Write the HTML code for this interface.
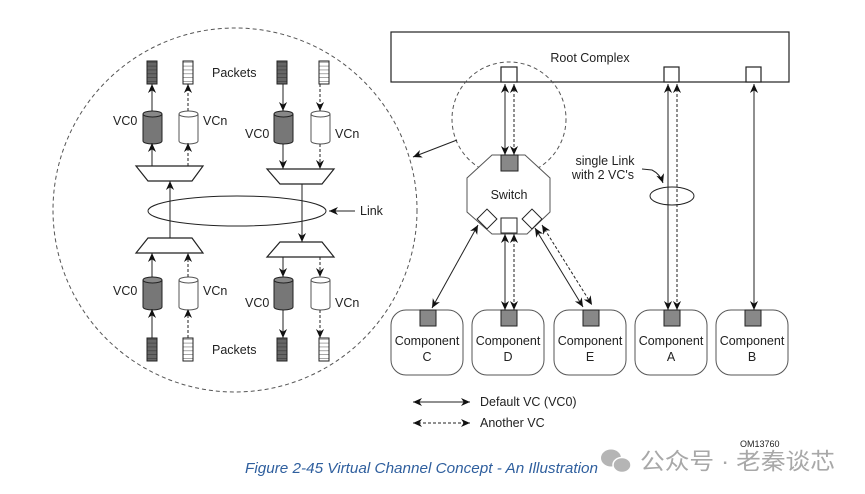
<!DOCTYPE html>
<html><head><meta charset="utf-8"><style>
html,body{margin:0;padding:0;background:#fff;}
svg{display:block;}
text{font-family:"Liberation Sans",Arial,sans-serif;fill:#222;}
</style></head><body>
<svg width="865" height="494" viewBox="0 0 865 494" xmlns="http://www.w3.org/2000/svg">
<defs>
<marker id="a" viewBox="0 0 10 10" refX="10" refY="5" markerWidth="9" markerHeight="9" orient="auto-start-reverse" markerUnits="userSpaceOnUse">
<path d="M0,0.5 L10,5 L0,9.5 L3,5 z" fill="#111"/>
</marker>
<pattern id="pk" width="10" height="3.9" patternUnits="userSpaceOnUse"><rect width="10" height="3.9" fill="none"/><line x1="0" y1="3.9" x2="10" y2="3.9" stroke="#222" stroke-width="0.8"/></pattern>
</defs>
<g stroke="#222" fill="none" stroke-width="1">
<ellipse cx="235" cy="210" rx="182" ry="182" stroke="#555" stroke-dasharray="4,3"/>
<ellipse cx="237" cy="211" rx="89" ry="15"/>
<line x1="355" y1="211" x2="329" y2="211" marker-end="url(#a)"/>
</g>
<text x="360" y="215" font-size="12.5">Link</text>
<text x="212" y="77" font-size="12.5">Packets</text>
<text x="212" y="354" font-size="12.5">Packets</text>

<g stroke="#222" stroke-width="1">
<g id="pd"><rect x="147" y="61" width="10" height="23" fill="#666"/><rect x="147" y="61" width="10" height="23" fill="url(#pk)"/></g>
<use href="#pd" x="130"/>
<use href="#pd" y="277"/>
<use href="#pd" x="130" y="277"/>
<g id="pw"><rect x="183" y="61" width="10" height="23" fill="#fff"/><rect x="183" y="61" width="10" height="23" fill="url(#pk)"/></g>
<use href="#pw" x="136"/>
<use href="#pw" y="277"/>
<use href="#pw" x="136" y="277"/>
</g>

<g stroke="#222" stroke-width="1">
<g id="cd"><path d="M143,114 v27 a9.5,3 0 0 0 19,0 v-27" fill="#777"/><ellipse cx="152.5" cy="114" rx="9.5" ry="3" fill="#888"/></g>
<use href="#cd" x="131" y="0"/>
<use href="#cd" y="166"/>
<use href="#cd" x="131" y="166"/>
<g id="cw" stroke="#555"><path d="M179,114 v27 a9.5,3 0 0 0 19,0 v-27" fill="#fff"/><ellipse cx="188.5" cy="114" rx="9.5" ry="3" fill="#fff"/></g>
<use href="#cw" x="132"/>
<use href="#cw" y="166"/>
<use href="#cw" x="132" y="166"/>
</g>
<g font-size="12.5">
<text x="113" y="125">VC0</text><text x="203" y="125">VCn</text>
<text x="245" y="138">VC0</text><text x="335" y="138">VCn</text>
<text x="113" y="295">VC0</text><text x="203" y="295">VCn</text>
<text x="245" y="307">VC0</text><text x="335" y="307">VCn</text>
</g>

<g stroke="#222" stroke-width="1.2" fill="#fff">
<polygon points="136,166 203,166 192,181 148,181"/>
<polygon points="267,169 334,169 322,184 280,184"/>
<polygon points="148,238 192,238 203,253 136,253"/>
<polygon points="280,242 322,242 334,257 267,257"/>
</g>

<g stroke="#222" stroke-width="1" fill="none">
<line x1="152" y1="166" x2="152" y2="143" marker-end="url(#a)"/>
<line x1="152" y1="111" x2="152" y2="84" marker-end="url(#a)"/>
<line x1="188" y1="166" x2="188" y2="143" marker-end="url(#a)" stroke-dasharray="3,2"/>
<line x1="188" y1="111" x2="188" y2="84" marker-end="url(#a)" stroke-dasharray="3,2"/>
<line x1="170" y1="238" x2="170" y2="181" marker-end="url(#a)"/>
<line x1="152" y1="338" x2="152" y2="309" marker-end="url(#a)"/>
<line x1="152" y1="277" x2="152" y2="253" marker-end="url(#a)"/>
<line x1="188" y1="338" x2="188" y2="309" marker-end="url(#a)" stroke-dasharray="3,2"/>
<line x1="188" y1="277" x2="188" y2="253" marker-end="url(#a)" stroke-dasharray="3,2"/>
<line x1="283" y1="84" x2="283" y2="111" marker-end="url(#a)"/>
<line x1="283" y1="144" x2="283" y2="169" marker-end="url(#a)"/>
<line x1="320" y1="84" x2="320" y2="111" marker-end="url(#a)" stroke-dasharray="3,2"/>
<line x1="320" y1="144" x2="320" y2="169" marker-end="url(#a)" stroke-dasharray="3,2"/>
<line x1="302" y1="184" x2="302" y2="242" marker-end="url(#a)"/>
<line x1="283" y1="257" x2="283" y2="277" marker-end="url(#a)"/>
<line x1="283" y1="310" x2="283" y2="338" marker-end="url(#a)"/>
<line x1="320" y1="257" x2="320" y2="277" marker-end="url(#a)" stroke-dasharray="3,2"/>
<line x1="320" y1="310" x2="320" y2="338" marker-end="url(#a)" stroke-dasharray="3,2"/>
</g>

<g stroke="#222" stroke-width="1.2" fill="#fff">
<rect x="391" y="32" width="398" height="50"/>
<rect x="501" y="67" width="16" height="15"/>
<rect x="664" y="67" width="15" height="15"/>
<rect x="746" y="67" width="15" height="15"/>
</g>
<text x="590" y="62" font-size="12.5" text-anchor="middle">Root Complex</text>

<g stroke="#555" fill="none" stroke-width="1">
<circle cx="509" cy="119" r="57" stroke-dasharray="4,3"/>
</g>
<line x1="457" y1="140" x2="413" y2="157" stroke="#222" marker-end="url(#a)"/>

<polygon points="492,155 525,155 550,178 550,212 527,234 492,234 467,212 467,178" fill="#fff" stroke="#555" stroke-width="1"/>
<rect x="501" y="155" width="17" height="16" fill="#888" stroke="#222"/>
<rect x="501" y="218" width="16" height="15" fill="#fff" stroke="#222"/>
<rect x="480" y="212" width="14" height="14" fill="#fff" stroke="#222" transform="rotate(45 487 219)"/>
<rect x="525" y="212" width="14" height="14" fill="#fff" stroke="#222" transform="rotate(45 532 219)"/>
<text x="509" y="199" font-size="12.5" text-anchor="middle">Switch</text>

<g stroke="#222" stroke-width="1" fill="none">
<line x1="505" y1="84" x2="505" y2="155" marker-start="url(#a)" marker-end="url(#a)"/>
<line x1="514" y1="84" x2="514" y2="155" marker-start="url(#a)" marker-end="url(#a)" stroke-dasharray="3,2"/>
<line x1="505" y1="234" x2="505" y2="310" marker-start="url(#a)" marker-end="url(#a)"/>
<line x1="514" y1="234" x2="514" y2="310" marker-start="url(#a)" marker-end="url(#a)" stroke-dasharray="3,2"/>
<line x1="478" y1="225" x2="432" y2="308" marker-start="url(#a)" marker-end="url(#a)"/>
<line x1="535" y1="228" x2="583" y2="307" marker-start="url(#a)" marker-end="url(#a)"/>
<line x1="542" y1="225" x2="592" y2="305" marker-start="url(#a)" marker-end="url(#a)" stroke-dasharray="3,2"/>
<line x1="668" y1="84" x2="668" y2="310" marker-start="url(#a)" marker-end="url(#a)"/>
<line x1="677" y1="84" x2="677" y2="310" marker-start="url(#a)" marker-end="url(#a)" stroke-dasharray="3,2"/>
<line x1="754" y1="84" x2="754" y2="310" marker-start="url(#a)" marker-end="url(#a)"/>
<ellipse cx="672" cy="196" rx="22" ry="9"/>
<path d="M642,169 L652,170 Q660,174 663,183" marker-end="url(#a)"/>
</g>
<text x="605" y="165" font-size="12.5" text-anchor="middle">single Link</text>
<text x="603" y="179" font-size="12.5" text-anchor="middle">with 2 VC's</text>

<g stroke="#555" stroke-width="1" fill="#fff">
<rect x="391" y="310" width="72" height="65" rx="15"/>
<rect x="472" y="310" width="72" height="65" rx="15"/>
<rect x="554" y="310" width="72" height="65" rx="15"/>
<rect x="635" y="310" width="72" height="65" rx="15"/>
<rect x="716" y="310" width="72" height="65" rx="15"/>
</g>
<g fill="#888" stroke="#222">
<rect x="420" y="310" width="16" height="16"/>
<rect x="501" y="310" width="16" height="16"/>
<rect x="583" y="310" width="16" height="16"/>
<rect x="664" y="310" width="16" height="16"/>
<rect x="745" y="310" width="16" height="16"/>
</g>
<g font-size="12.5" text-anchor="middle">
<text x="427" y="345">Component</text><text x="427" y="361">C</text>
<text x="508" y="345">Component</text><text x="508" y="361">D</text>
<text x="590" y="345">Component</text><text x="590" y="361">E</text>
<text x="671" y="345">Component</text><text x="671" y="361">A</text>
<text x="752" y="345">Component</text><text x="752" y="361">B</text>
</g>

<line x1="413" y1="402" x2="470" y2="402" stroke="#222" marker-start="url(#a)" marker-end="url(#a)"/>
<line x1="413" y1="423" x2="470" y2="423" stroke="#222" stroke-dasharray="3,2" marker-start="url(#a)" marker-end="url(#a)"/>
<text x="480" y="406" font-size="12.5">Default VC (VC0)</text>
<text x="480" y="427" font-size="12.5">Another VC</text>
<text x="740" y="447" font-size="9">OM13760</text>

<text x="245" y="473" font-size="15" font-style="italic" textLength="353" lengthAdjust="spacingAndGlyphs" style="fill:#2f5f9e">Figure  2-45  Virtual Channel Concept - An Illustration</text>
<g fill="#b5b5b5">
<ellipse cx="611" cy="458" rx="10" ry="8.5"/>
<ellipse cx="622" cy="465" rx="9" ry="7.5" stroke="#fff" stroke-width="1.5"/>
</g>
<text x="640" y="469" font-size="23" textLength="195" lengthAdjust="spacingAndGlyphs" style="fill:#a8a8a8;font-family:'Liberation Sans','Noto Sans CJK SC',sans-serif">公众号 · 老秦谈芯</text>
</svg>
</body></html>
